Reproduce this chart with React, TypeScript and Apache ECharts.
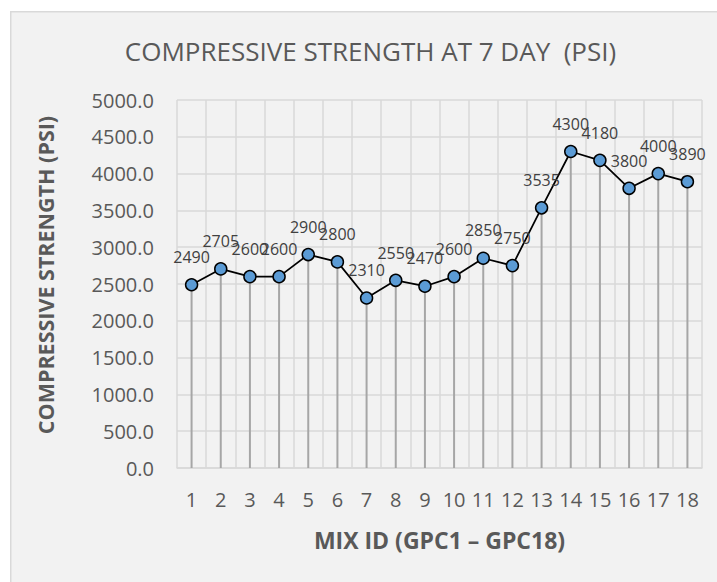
import React, { useEffect, useRef } from "react";
import * as echarts from "echarts";

const mixIds = ["1", "2", "3", "4", "5", "6", "7", "8", "9", "10", "11", "12", "13", "14", "15", "16", "17", "18"];
const strength7Day = [2490, 2705, 2600, 2600, 2900, 2800, 2310, 2550, 2470, 2600, 2850, 2750, 3535, 4300, 4180, 3800, 4000, 3890];
const chartTitle = "COMPRESSIVE STRENGTH AT 7 DAY  (PSI)";
const xTitle = "MIX ID (GPC1 – GPC18)";
const yTitle = "COMPRESSIVE STRENGTH (PSI)";

const FONT = "'Open Sans', 'Noto Sans', sans-serif";

export default function App() {
  const ref = useRef<HTMLDivElement>(null);
  useEffect(() => {
    if (!ref.current) return;
    const chart = echarts.init(ref.current, undefined, { renderer: "svg" });
    chart.setOption({
      animation: false,
      backgroundColor: "#ffffff",
      textStyle: { fontFamily: FONT },
      graphic: [
        {
          type: "rect",
          z: -10,
          silent: true,
          shape: { x: 10.75, y: 11.75, width: 720, height: 590 },
          style: { fill: "#f2f2f2", stroke: "#d9d9d9", lineWidth: 1.5 },
        },
        {
          type: "text",
          x: 370.5,
          y: 50.5,
          style: {
            text: chartTitle,
            fontFamily: FONT,
            fontSize: 26,
            fill: "#595959",
            align: "center",
            verticalAlign: "middle",
          },
        },
        {
          type: "text",
          x: 45.5,
          y: 275,
          rotation: Math.PI / 2,
          style: {
            text: yTitle,
            fontFamily: FONT,
            fontWeight: "bold",
            fontSize: 21.5,
            fill: "#595959",
            align: "center",
            verticalAlign: "middle",
          },
        },
      ],
      grid: { left: 177, right: 15, top: 100, bottom: 114, containLabel: false },
      xAxis: {
        type: "category",
        data: mixIds,
        boundaryGap: true,
        name: xTitle,
        nameLocation: "middle",
        nameGap: 60,
        nameTextStyle: { fontFamily: FONT, fontWeight: "bold", fontSize: 23, color: "#595959" },
        axisLine: { show: true, lineStyle: { color: "#d9d9d9", width: 1.5 } },
        axisTick: { show: false },
        axisLabel: { interval: 0, margin: 21, fontSize: 20, color: "#595959", fontFamily: FONT },
        splitLine: { show: true, interval: 0, lineStyle: { color: "#d9d9d9", width: 1.5 } },
      },
      yAxis: {
        type: "value",
        min: 0,
        max: 5000,
        interval: 500,
        axisLine: { show: false },
        axisTick: { show: false },
        axisLabel: {
          margin: 23,
          fontSize: 20,
          color: "#595959",
          fontFamily: FONT,
          formatter: (v: number) => v.toFixed(1),
        },
        splitLine: { show: true, lineStyle: { color: "#d9d9d9", width: 1.5 } },
      },
      series: [
        {
          type: "bar",
          data: strength7Day,
          barWidth: 2,
          itemStyle: { color: "#a6a6a6" },
          z: 1,
          silent: true,
        },
        {
          type: "line",
          data: strength7Day,
          z: 3,
          symbol: "circle",
          symbolSize: 12,
          lineStyle: { color: "#000000", width: 1.75 },
          itemStyle: { color: "#5b9bd5", borderColor: "#000000", borderWidth: 1.5 },
          label: {
            show: true,
            position: "top",
            distance: 13,
            fontSize: 16,
            color: "#404040",
            fontFamily: FONT,
          },
        },
      ],
    });
    return () => chart.dispose();
  }, []);
  return (
    <div
      ref={ref}
      style={{ position: "fixed", left: 0, top: 0, width: 717, height: 582 }}
    />
  );
}
